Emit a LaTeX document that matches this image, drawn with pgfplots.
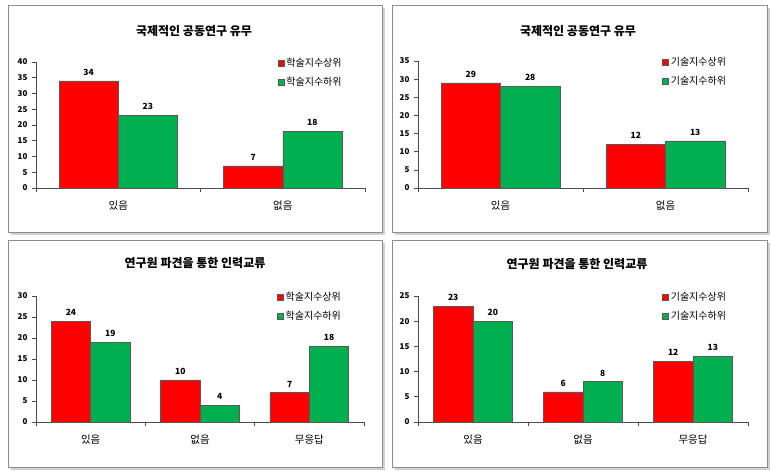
\documentclass[border=0pt]{standalone}
\usepackage{fontspec}
\setmainfont{Noto Sans CJK KR}
\usepackage{pgfplots}
\pgfplotsset{compat=1.18}
\definecolor{cred}{HTML}{FF0000}
\definecolor{cgreen}{HTML}{00B050}
\pgfplotsset{
  panel/.style={
    scale only axis, anchor=south west,
    ybar,
    legend image code/.code={\draw[##1] (0pt,-3pt) rectangle (6pt,3pt);},
    axis lines=left, axis line style={-, draw=black!70, line width=0.6pt},
    ymin=0, ytick distance=5,
    tick align=outside, major tick length=4pt, minor tick length=4pt,
    tick style={draw=black!70, line width=0.6pt},
    major x tick style={draw=none},
    /pgf/number format/assume math mode=true,
    yticklabel style={font=\bfseries\fontsize{8}{9}\selectfont, xshift=-1pt},
    xticklabel style={font=\fontsize{10.5}{12}\selectfont, yshift=-5pt},
    nodes near coords,
    nodes near coords style={font=\bfseries\fontsize{8.5}{10}\selectfont, anchor=south, yshift=2pt},
    legend style={draw=none, fill=none, anchor=north west, inner sep=0pt,
      row sep=5pt, font=\fontsize{10}{11}\selectfont},
    legend cell align=left,
    clip=false,
  },
  redbar/.style={fill=cred, draw=black!65, line width=0.4pt},
  greenbar/.style={fill=cgreen, draw=black!65, line width=0.4pt},
}
\begin{document}
\begin{tikzpicture}
\path (0pt,0pt) rectangle (771pt,471pt);
% panel frames
\foreach \x/\y/\X/\Y in {8/239/382/466, 392/239/767/466, 8/4/382/231, 392/4/767/231}{
  \fill[black!18] (\x pt+3pt,\y pt-3pt) rectangle (\X pt+3pt,\Y pt-3pt);
  \filldraw[fill=white, draw=black!45, line width=0.6pt] (\x pt,\y pt) rectangle (\X pt,\Y pt);
}
\node[font=\bfseries\fontsize{12}{14}\selectfont] at (194pt,440pt) {국제적인 공동연구 유무};
\node[font=\bfseries\fontsize{12}{14}\selectfont] at (578pt,440pt) {국제적인 공동연구 유무};
\node[font=\bfseries\fontsize{12}{14}\selectfont] at (195pt,208pt) {연구원 파견을 통한 인력교류};
\node[font=\bfseries\fontsize{12}{14}\selectfont] at (577pt,207pt) {연구원 파견을 통한 인력교류};

\begin{axis}[panel, at={(36pt,283pt)}, width=329pt, height=126pt,
  ymax=40, xmin=-0.5, xmax=1.5, bar width=0.36,
  xtick={0,1}, xticklabels={있음,없음}, minor xtick={-0.5,0.5,1.5},
  legend style={at={(0.735,1.045)}}]
\addplot[redbar, bar shift=-0.18] coordinates {(0,34) (1,7)};
\addplot[greenbar, bar shift=0.18] coordinates {(0,23) (1,18)};
\legend{학술지수상위, 학술지수하위}
\end{axis}

\begin{axis}[panel, at={(418pt,283pt)}, width=330pt, height=127pt,
  ymax=35, xmin=-0.5, xmax=1.5, bar width=0.36,
  xtick={0,1}, xticklabels={있음,없음}, minor xtick={-0.5,0.5,1.5},
  legend style={at={(0.74,1.045)}}]
\addplot[redbar, bar shift=-0.18] coordinates {(0,29) (1,12)};
\addplot[greenbar, bar shift=0.18] coordinates {(0,28) (1,13)};
\legend{기술지수상위, 기술지수하위}
\end{axis}

\begin{axis}[panel, at={(36pt,49pt)}, width=328pt, height=126pt,
  ymax=30, xmin=-0.5, xmax=2.5, bar width=0.36,
  xtick={0,1,2}, xticklabels={있음,없음,무응답}, minor xtick={-0.5,0.5,1.5,2.5},
  legend style={at={(0.735,1.045)}}]
\addplot[redbar, bar shift=-0.18] coordinates {(0,24) (1,10) (2,7)};
\addplot[greenbar, bar shift=0.18] coordinates {(0,19) (1,4) (2,18)};
\legend{학술지수상위, 학술지수하위}
\end{axis}

\begin{axis}[panel, at={(418pt,49pt)}, width=330pt, height=126pt,
  ymax=25, xmin=-0.5, xmax=2.5, bar width=0.36,
  xtick={0,1,2}, xticklabels={있음,없음,무응답}, minor xtick={-0.5,0.5,1.5,2.5},
  legend style={at={(0.74,1.045)}}]
\addplot[redbar, bar shift=-0.18] coordinates {(0,23) (1,6) (2,12)};
\addplot[greenbar, bar shift=0.18] coordinates {(0,20) (1,8) (2,13)};
\legend{기술지수상위, 기술지수하위}
\end{axis}
\end{tikzpicture}
\end{document}
